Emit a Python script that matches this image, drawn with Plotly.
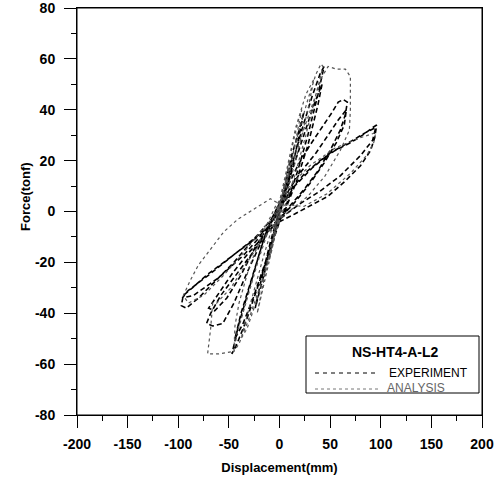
import plotly.graph_objects as go

# Experiment hysteresis (displacement mm, force tonf)
exp_disp = [0, 5, 10, 13, 8, 3, 0, -5, -10, -13, -8, -3, 0,
            6, 12, 18, 22, 24, 18, 10, 3, -3, -10, -17, -22, -24, -17, -9, -2,
            5, 12, 22, 32, 40, 44, 38, 28, 18, 8, 0, -10, -22, -32, -42, -47, -40, -30, -18, -8, 0,
            6, 14, 24, 34, 42, 38, 28, 16, 6, -4, -14, -26, -36, -44, -38, -26, -14, -4,
            8, 18, 30, 42, 52, 58, 63, 67, 65, 60, 50, 38, 25, 12, 0, -15, -30, -45, -58, -68, -72, -66, -56, -45, -32, -18, -6, 2,
            10, 22, 36, 48, 58, 66, 64, 56, 44, 30, 16, 2, -14, -30, -46, -60, -70, -64, -52, -38, -24, -10, 0,
            12, 25, 40, 55, 70, 82, 92, 96, 94, 90, 80, 65, 48, 30, 15, 0, -15, -35, -55, -72, -86, -95, -97, -92, -80, -62, -45, -28, -12, 0,
            15, 32, 50, 68, 85, 95, 92, 80, 60, 40, 20, 0, -20, -45, -70, -90, -96, -85, -60, -35, -15, 0]
exp_force = [0, 9, 17, 22, 12, 4, -1, -9, -16, -21, -12, -4, 1,
             12, 22, 30, 36, 39, 27, 13, 3, -6, -16, -27, -34, -38, -25, -12, -2,
             8, 18, 32, 45, 54, 57, 46, 30, 16, 4, -4, -16, -30, -42, -52, -56, -44, -30, -14, -3, 3,
             8, 18, 30, 42, 50, 42, 26, 11, 1, -7, -20, -34, -44, -50, -40, -24, -9, 0,
             10, 18, 26, 33, 39, 43, 44, 43, 38, 32, 24, 16, 9, 3, -3, -10, -18, -26, -33, -40, -44, -45, -44, -36, -24, -12, -3, 3,
             9, 16, 23, 30, 36, 40, 34, 27, 19, 11, 4, -2, -9, -16, -24, -32, -38, -39, -34, -25, -14, -5, 1,
             9, 15, 20, 24, 27, 30, 33, 34, 29, 24, 18, 12, 6, 2, -1, -4, -8, -14, -20, -25, -30, -33, -37, -38, -34, -27, -20, -12, -5, 1,
             10, 17, 23, 27, 31, 33, 28, 22, 14, 8, 3, -3, -9, -17, -25, -31, -34, -33, -26, -17, -8, 0]

# Analysis hysteresis
ana_disp = [0, 4, 8, 10, 6, 2, -2, -6, -10, -6, -2, 0,
            6, 12, 18, 22, 16, 8, 0, -8, -16, -22, -16, -8, 0,
            8, 18, 28, 36, 41, 43, 36, 26, 15, 5, -5, -18, -30, -40, -45, -42, -32, -20, -8, 0,
            8, 16, 26, 34, 28, 16, 4, -8, -20, -32, -38, -30, -16, -4,
            10, 22, 34, 42, 48, 56, 65, 70, 70, 69, 60, 45, 28, 12, 0, -15, -32, -48, -62, -66, -68, -71, -60, -45, -44, -40, -30, -16, -4,
            10, 30, 55, 80, 95, 93, 86, 70, 47, 24, 0, -9, -25, -41, -55, -68, -80, -88, -95, -90, -75, -55, -35, -15, 0]
ana_force = [0, 8, 16, 20, 12, 3, -4, -12, -19, -10, -2, 2,
             14, 25, 35, 40, 28, 12, -2, -16, -30, -40, -28, -12, 3,
             14, 30, 44, 54, 58, 57, 46, 30, 14, 2, -10, -28, -42, -52, -55, -48, -34, -18, -4, 4,
             18, 33, 46, 52, 40, 20, 3, -14, -32, -46, -50, -38, -18, -2,
             16, 30, 44, 53, 57, 56, 56, 53, 40, 32, 24, 14, 6, 1, -3, -10, -20, -30, -36, -36, -46, -56, -56, -55, -45, -36, -22, -8, 2,
             10, 18, 25, 29, 31, 27, 22, 15, 7, 2, 3, 5, 1, -3, -8, -15, -21, -27, -33, -36, -33, -25, -16, -6, 0]

legend_title = "NS-HT4-A-L2"
series_names = ["EXPERIMENT", "ANALYSIS"]
x_title = "Displacement(mm)"
y_title = "Force(tonf)"
x_ticks = [-200, -150, -100, -50, 0, 50, 100, 150, 200]
y_ticks = [-80, -60, -40, -20, 0, 20, 40, 60, 80]

font_family = "Liberation Sans, Arial, sans-serif"
exp_style = dict(color="black", width=1.6, dash="5px,3px")
ana_style = dict(color="#555555", width=1.2, dash="dot")

fig = go.Figure()
fig.add_trace(go.Scatter(x=exp_disp, y=exp_force, mode="lines", name=series_names[0],
                         line=exp_style, showlegend=False))
fig.add_trace(go.Scatter(x=ana_disp, y=ana_force, mode="lines", name=series_names[1],
                         line=ana_style, showlegend=False))

axis_common = dict(showline=True, linecolor="black", linewidth=1, mirror=True,
                   ticks="outside", ticklen=12, tickwidth=1, tickcolor="black",
                   showgrid=False, zeroline=False, automargin=False,
                   ticklabeloverflow="allow",
                   tickfont=dict(family=font_family, size=14, color="black", weight="bold"))

fig.update_xaxes(range=[-200, 200], tickvals=x_ticks, ticktext=[str(v) for v in x_ticks],
                 ticklabelstandoff=4,
                 minor=dict(ticks="outside", ticklen=5, dtick=25, tickcolor="black", showgrid=False),
                 title=dict(text=x_title, font=dict(family=font_family, size=13, color="black", weight="bold"), standoff=12),
                 **axis_common)
fig.update_yaxes(range=[-80, 80], tickvals=y_ticks, ticktext=[str(v) for v in y_ticks],
                 ticklabelstandoff=6,
                 minor=dict(ticks="outside", ticklen=5, dtick=10, tickcolor="black", showgrid=False),
                 **axis_common)

# Legend box and y title drawn in paper coordinates
def px(xp):
    return (xp - 77) / 405.0

def py(yp):
    return (415 - yp) / 407.0

shapes = [
    dict(type="rect", xref="paper", yref="paper", x0=0, x1=1, y0=0, y1=1,
         line=dict(color="black", width=1), layer="above"),
    dict(type="rect", xref="paper", yref="paper", x0=px(306), x1=px(479), y0=py(393), y1=py(336),
         line=dict(color="black", width=1), fillcolor="white", layer="above"),
    dict(type="line", xref="paper", yref="paper", x0=px(315), x1=px(378), y0=py(373), y1=py(373),
         line=dict(color="black", width=1, dash="4px,4px"), layer="above"),
    dict(type="line", xref="paper", yref="paper", x0=px(315), x1=px(378), y0=py(389), y1=py(389),
         line=dict(color="#777777", width=1, dash="dot"), layer="above"),
]
annotations = [
    dict(xref="paper", yref="paper", x=px(25), y=py(196), text=y_title, textangle=-90,
         showarrow=False, xanchor="center", yanchor="middle",
         font=dict(family=font_family, size=13, color="black", weight="bold")),
    dict(xref="paper", yref="paper", x=px(395), y=py(352), text="<b>" + legend_title + "</b>",
         showarrow=False, xanchor="center", yanchor="middle",
         font=dict(family=font_family, size=14, color="black")),
    dict(xref="paper", yref="paper", x=px(387), y=py(373), text=series_names[0],
         showarrow=False, xanchor="left", yanchor="middle",
         font=dict(family=font_family, size=12, color="black")),
    dict(xref="paper", yref="paper", x=px(385), y=py(388), text=series_names[1],
         showarrow=False, xanchor="left", yanchor="middle",
         font=dict(family=font_family, size=12, color="#666666")),
]

fig.update_layout(
    width=500, height=485,
    margin=dict(l=77, r=18, t=8, b=70),
    plot_bgcolor="white", paper_bgcolor="white",
    font=dict(family=font_family, color="black"),
    showlegend=False,
    shapes=shapes,
    annotations=annotations,
)

fig.write_html("out.html")
